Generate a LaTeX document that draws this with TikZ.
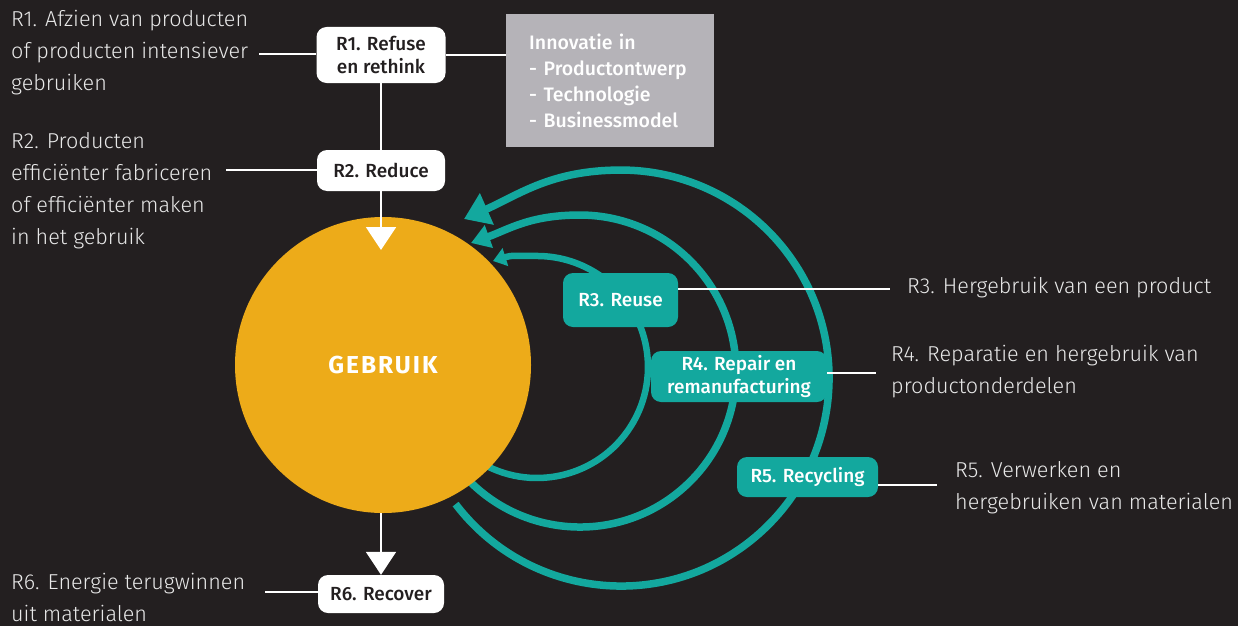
\documentclass[tikz,border=0pt]{standalone}
\usepackage{fontspec}
\usetikzlibrary{arrows.meta}
\setmainfont{Fira Sans}
\IfFontExistsTF{Fira Sans Light}{\newfontfamily\descfont{Fira Sans Light}}{\newfontfamily\descfont{Fira Sans}}
\IfFontExistsTF{Fira Sans Medium}{\newfontfamily\lblfont{Fira Sans Medium}}{\newcommand\lblfont{\bfseries}}
\newcommand\gebfont{\bfseries\fontsize{24.5}{28}\selectfont\addfontfeature{LetterSpace=8}}
\definecolor{bgc}{HTML}{231F20}
\definecolor{tealc}{HTML}{13A89E}
\definecolor{orangec}{HTML}{EDAB19}
\definecolor{grayc}{HTML}{B5B3B8}
\definecolor{desctext}{HTML}{E8E8E8}
\begin{document}
\begin{tikzpicture}[x=1pt,y=1pt,
  wline/.style={draw=white,line width=2pt},
  warrow/.style={wline,-{Triangle[length=23pt,width=30pt]}},
  loopline/.style={draw=tealc,line width=7.5pt},
  wbox/.style={fill=white,rounded corners=10pt,text=bgc,align=center,inner sep=0pt,font=\lblfont\fontsize{19}{22.5}\selectfont},
  tbox/.style={fill=tealc,rounded corners=10pt,text=white,align=center,inner sep=0pt,font=\lblfont\fontsize{19}{22.5}\selectfont},
  desc/.style={text=desctext,align=left,inner sep=0pt,anchor=west,font=\descfont\fontsize{21.6}{32}\selectfont}]
\fill[bgc] (0,0) rectangle (1238,-626);
\useasboundingbox (0,0) rectangle (1238,-626);

% loops
\draw[loopline,-{Triangle[length=25pt,width=33pt]}] (455.6,-504.1) arc[start angle=-142.7,end angle=90,radius=208] .. controls (551,-170) and (518.6,-195) .. (464,-219);
\draw[loopline,-{Triangle[length=19pt,width=23pt]}] (460.5,-471.3) arc[start angle=-140,end angle=90,radius=156] .. controls (530,-215) and (508.6,-229.4) .. (471,-243);
\draw[loopline,line width=6.5pt,-{Triangle[length=13pt,width=18pt]}] (473.3,-457.9) arc[start angle=-125,end angle=90,radius=111] .. controls (515,-256) and (512,-255) .. (493,-261);

% central circle
\node[circle,fill=orangec,minimum size=296pt,inner sep=0pt,text=white,font=\gebfont] (gebruik) at (383,-365) {GEBRUIK};

% boxes
\node[wbox,minimum width=129pt,minimum height=56pt] (r1) at (381,-55) {R1. Refuse\\en rethink};
\node[wbox,minimum width=128pt,minimum height=41pt] (r2) at (381,-170.5) {R2. Reduce};
\node[wbox,minimum width=126pt,minimum height=38pt] (r6) at (381,-594) {R6. Recover};
\node[tbox,minimum width=115pt,minimum height=54pt] (r3) at (620.5,-300) {R3. Reuse};
\node[tbox,minimum width=176pt,minimum height=51pt] (r4) at (739,-376.5) {R4. Repair en\\remanufacturing};
\node[tbox,minimum width=141pt,minimum height=40pt] (r5) at (807.5,-477) {R5. Recycling};
\node[fill=grayc,anchor=north west,minimum width=208pt,minimum height=133pt,text width=162pt,inner xsep=23pt,inner ysep=0pt,align=left,text=white,font=\lblfont\fontsize{19.5}{26}\selectfont] (inno) at (506,-14) {Innovatie in\\- Productontwerp\\- Technologie\\- Businessmodel};

% white connectors
\coordinate (tin) at (381,-250);
\draw[wline] (r1) -- (r2);
\draw[warrow] (r2) -- (tin);
\draw[warrow] (r6.north |- gebruik.south) -- (r6.north);
\draw[wline] (r1.east) -- (r1.east -| inno.west);

% descriptions
\node[desc] (d1) at (11,-53) {R1. Afzien van producten\\of producten intensiever\\gebruiken};
\node[desc] (d2) at (11,-191) {R2. Producten\\efficiënter fabriceren\\of efficiënter maken\\in het gebruik};
\node[desc] (d6) at (11,-597) {R6. Energie terugwinnen\\uit materialen};
\node[desc] (d3) at (907,-288) {R3. Hergebruik van een product};
\node[desc] (d4) at (891,-372) {R4. Reparatie en hergebruik van\\productonderdelen};
\node[desc] (d5) at (955,-488) {R5. Verwerken en\\hergebruiken van materialen};

\coordinate (l1) at (259,-54);
\coordinate (l2) at (226,-170);
\coordinate (l6) at (265,-592);
\coordinate (l3) at (890,-289);
\coordinate (l4) at (876,-373);
\coordinate (l5) at (937,-485);
\draw[wline] (l1) -- (l1 -| r1.west);
\draw[wline] (l2) -- (l2 -| r2.west);
\draw[wline] (l6) -- (l6 -| r6.west);
\draw[wline] (l3 -| r3.east) -- (l3);
\draw[wline] (l4 -| r4.east) -- (l4);
\draw[wline] (l5 -| r5.east) -- (l5);
\end{tikzpicture}
\end{document}
